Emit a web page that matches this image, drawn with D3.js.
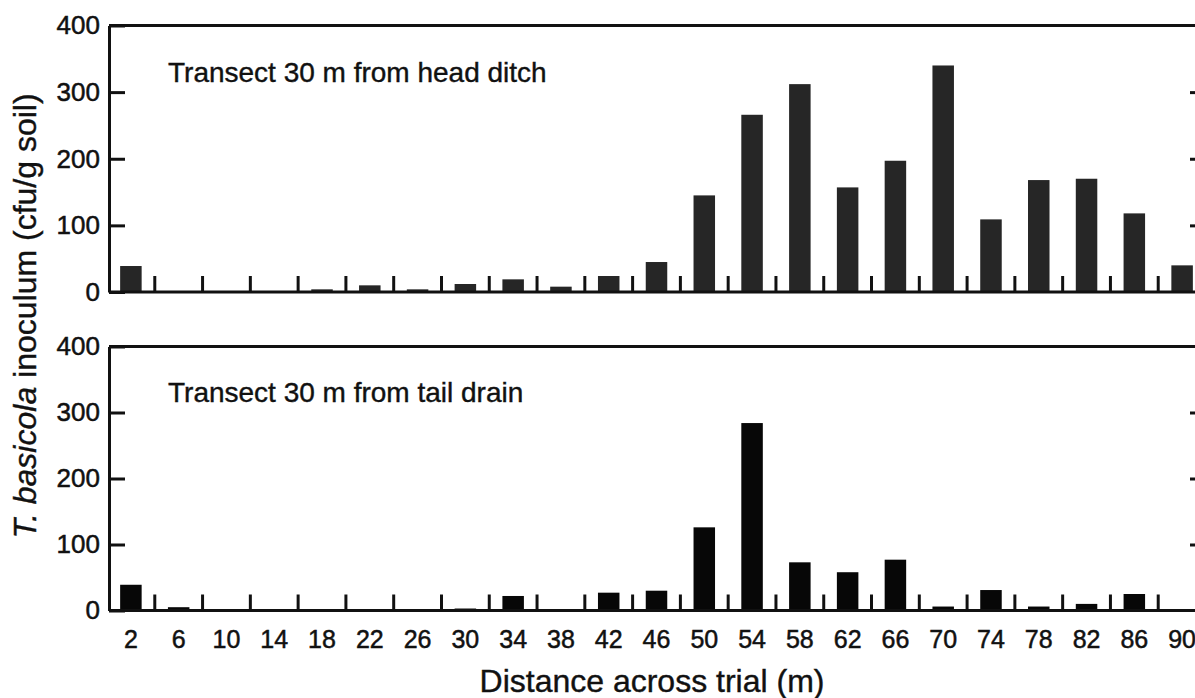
<!DOCTYPE html>
<html>
<head>
<meta charset="utf-8">
<script src="https://cdn.jsdelivr.net/npm/d3@7"></script>
<style>
  html, body { margin: 0; padding: 0; background: #fff; }
  svg { display: block; font-family: "Liberation Sans", Arial, Helvetica, sans-serif; }
</style>
</head>
<body>
<svg id="chart" width="1195" height="698"></svg>
<script>
// Sampling positions across the trial (m)
const distances = [2, 6, 10, 14, 18, 22, 26, 30, 34, 38, 42, 46, 50, 54, 58, 62, 66, 70, 74, 78, 82, 86, 90];
// T. basicola inoculum (cfu/g soil), transect 30 m from the head ditch
const headDitch = [39, 0, 0, 0, 4, 10, 4, 12, 19, 8, 24, 45, 145, 266, 312, 157, 197, 340, 109, 168, 170, 118, 40];
// T. basicola inoculum (cfu/g soil), transect 30 m from the tail drain
const tailDrain = [39, 5, 0, 0, 0, 0, 0, 3, 22, 0, 27, 30, 126, 284, 73, 58, 77, 6, 31, 6, 10, 25, 0];
const yTickValues = [0, 100, 200, 300, 400];
const panelTitles = ["Transect 30 m from head ditch", "Transect 30 m from tail drain"];
const xAxisTitle = "Distance across trial (m)";

const W = 1195, H = 698;
const axisX = 109, rightX = 1206;
const ink = "#111";

const svg = d3.select("#chart");

const x = d3.scaleBand()
  .domain(distances)
  .range([107, rightX])
  .paddingInner(0.55)
  .paddingOuter(0.275);

const panels = [
  { values: headDitch, title: panelTitles[0], top: 25.5, bottom: 292, fill: "#262626", titleY: 82 },
  { values: tailDrain, title: panelTitles[1], top: 346.5, bottom: 610.5, fill: "#070707", titleY: 402 }
];

// printed type looks slightly heavy; a thin outline gives the same weight
function inked(sel, w) {
  sel.attr("fill", ink).attr("stroke", ink).attr("stroke-width", w).attr("paint-order", "stroke");
}

panels.forEach(p => {
  const y = d3.scaleLinear().domain([0, 400]).range([p.bottom, p.top]);
  const g = svg.append("g");

  // bars
  g.append("g").selectAll("rect")
    .data(distances)
    .join("rect")
    .attr("x", d => x(d))
    .attr("width", x.bandwidth())
    .attr("y", (d, i) => y(p.values[i]))
    .attr("height", (d, i) => y(0) - y(p.values[i]))
    .attr("fill", p.fill);

  // frame: top edge and baseline running off to the right
  g.append("line")
    .attr("x1", axisX).attr("x2", W + 20)
    .attr("y1", y(400)).attr("y2", y(400))
    .attr("stroke", ink).attr("stroke-width", 3);
  g.append("line")
    .attr("x1", axisX).attr("x2", W + 20)
    .attr("y1", y(0)).attr("y2", y(0))
    .attr("stroke", ink).attr("stroke-width", 3);

  // short upward ticks between neighbouring sampling positions
  g.append("g").selectAll("line")
    .data(distances.slice(0, -1))
    .join("line")
    .attr("x1", d => x(d) + x.bandwidth() + x.step() * x.paddingInner() / 2)
    .attr("x2", d => x(d) + x.bandwidth() + x.step() * x.paddingInner() / 2)
    .attr("y1", y(0))
    .attr("y2", y(0) - 16)
    .attr("stroke", ink)
    .attr("stroke-width", 3);

  // left value axis with inward ticks
  const yAxis = g.append("g")
    .attr("transform", `translate(${axisX},0)`)
    .call(d3.axisLeft(y).tickValues(yTickValues).tickSizeInner(-16).tickSizeOuter(0).tickPadding(9));
  yAxis.select(".domain").attr("stroke", ink).attr("stroke-width", 3);
  yAxis.selectAll(".tick line").attr("stroke", ink).attr("stroke-width", 3);
  yAxis.selectAll(".tick text")
    .call(inked, 0.5)
    .style("font-size", "26px")
    .style("font-family", "'Liberation Sans', Arial, sans-serif");

  // right axis, ticks only
  const rAxis = g.append("g")
    .attr("transform", `translate(${rightX},0)`)
    .call(d3.axisRight(y).tickValues([100, 200, 300]).tickSizeInner(-16).tickSizeOuter(0).tickFormat(""));
  rAxis.select(".domain").attr("stroke", ink).attr("stroke-width", 3);
  rAxis.selectAll(".tick line").attr("stroke", ink).attr("stroke-width", 3);

  // panel title
  g.append("text")
    .attr("x", 168).attr("y", p.titleY)
    .call(inked, 0.4)
    .style("font-size", "28px")
    .text(p.title);
});

// distance labels beneath the lower panel
const lower = panels[1];
const xAxis = svg.append("g")
  .attr("transform", `translate(0,${lower.bottom})`)
  .call(d3.axisBottom(x).tickSize(0).tickPadding(20));
xAxis.select(".domain").remove();
xAxis.selectAll(".tick text")
  .call(inked, 0.5)
  .style("font-size", "25px")
  .style("font-family", "'Liberation Sans', Arial, sans-serif");

// axis titles
svg.append("text")
  .attr("x", 652).attr("y", 692)
  .attr("text-anchor", "middle")
  .call(inked, 0.4)
  .style("font-size", "32px")
  .text(xAxisTitle);

const yTitle = svg.append("text")
  .attr("transform", "translate(36,316) rotate(-90)")
  .attr("text-anchor", "middle")
  .call(inked, 0.4)
  .style("font-size", "32px");
yTitle.append("tspan").style("font-style", "italic").text("T. basicola");
yTitle.append("tspan").text(" inoculum (cfu/g soil)");
</script>
</body>
</html>
